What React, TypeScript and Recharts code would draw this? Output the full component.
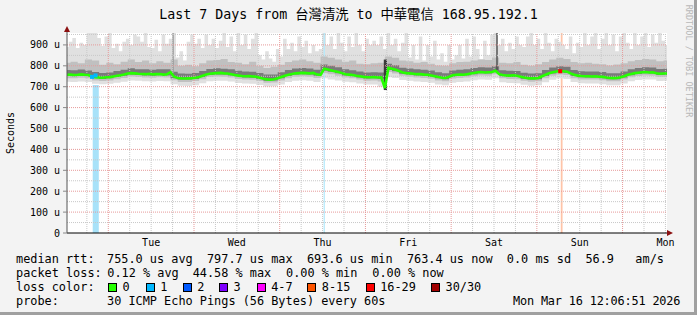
import React from 'react';
import {
  ComposedChart,
  Area,
  Line,
  Scatter,
  XAxis,
  YAxis,
  ReferenceLine,
  ReferenceArea,
  ReferenceDot,
} from 'recharts';

// ---------- data (hours since graph start, microseconds) ----------
// median rtt, hourly, h = 0..168
const MEDIAN = [
  757, 758, 756, 757, 759, 757, 756, 749, 746, 744, 743, 745,
  746, 749, 752, 755, 758, 763, 765, 764, 762, 761, 760, 762,
  759, 760, 761, 758, 760, 770, 748, 742, 740, 739, 740, 741,
  743, 746, 752, 758, 762, 764, 765, 766, 764, 763, 760, 756,
  753, 751, 750, 751, 749, 748, 743, 738, 735, 734, 736, 740,
  746, 752, 757, 761, 764, 765, 766, 765, 764, 766, 758, 757,
  786, 782, 778, 774, 770, 765, 760, 758, 756, 752, 750, 747,
  745, 745, 746, 744, 745, 694, 790, 786, 781, 775, 768, 765,
  764, 762, 760, 760, 758, 757, 754, 750, 746, 743, 742, 748,
  755, 757, 758, 757, 760, 763, 766, 769, 770, 768, 769, 770,
  776, 760, 756, 754, 753, 755, 752, 748, 744, 741, 740, 740,
  742, 750, 757, 764, 769, 773, 775, 774, 772, 764, 757, 753,
  751, 750, 750, 749, 750, 748, 747, 744, 742, 741, 742, 745,
  750, 757, 761, 765, 767, 769, 770, 768, 769, 764, 762, 763,
  763,
];

// slowest ping, hourly, h = 0..168
const PING_MAX = [
  890, 915, 933, 885, 910, 900, 957, 957, 957, 933, 895, 940,
  957, 885, 905, 870, 915, 930, 900, 950, 940, 915, 957, 890,
  885, 925, 870, 950, 905, 930, 957, 840, 870, 825, 915, 950,
  905, 930, 885, 950, 900, 930, 885, 920, 957, 890, 940, 870,
  957, 900, 950, 880, 930, 957, 850, 830, 870, 835, 820, 880,
  845, 930, 880, 910, 870, 940, 890, 920, 860, 900, 870, 880,
  957, 900, 940, 880, 957, 910, 870, 940, 890, 957, 900, 870,
  930, 900, 920, 900, 940, 880, 957, 900, 930, 870, 910, 957,
  840, 900, 830, 940, 825, 900, 845, 920, 830, 860, 820, 900,
  830, 850, 900, 835, 930, 845, 940, 880, 830, 920, 850, 950,
  957, 900, 930, 870, 910, 880, 940, 900, 890, 940, 957, 900,
  930, 880, 957, 910, 870, 930, 915, 900, 880, 940, 860, 910,
  890, 957, 900, 940, 957, 880, 930, 957, 900, 950, 870, 940,
  957, 910, 880, 957, 900, 940, 957, 890, 950, 910, 957, 920,
  900,
];

// smoke quantiles, every 2 hours, h = 0,2,..,168
const PING_MIN = [
  724, 722, 725, 722, 714, 712, 714, 719, 724, 730, 728, 726,
  725, 727, 726, 712, 704, 703, 707, 716, 726, 729, 728, 725,
  718, 715, 714, 708, 701, 702, 711, 722, 729, 731, 729, 723,
  740, 735, 730, 724, 721, 715, 710, 711, 700, 745, 742, 732,
  728, 725, 723, 719, 711, 707, 719, 722, 725, 731, 734, 733,
  740, 721, 718, 717, 709, 705, 707, 721, 733, 740, 737, 722,
  716, 715, 715, 712, 707, 707, 715, 726, 732, 735, 734, 727,
  728,
];
const PING_Q1 = [
  741, 740, 743, 740, 730, 727, 730, 736, 742, 749, 746, 744,
  743, 745, 744, 731, 723, 723, 727, 736, 746, 749, 748, 744,
  737, 734, 733, 727, 719, 720, 730, 741, 748, 750, 748, 742,
  765, 760, 753, 744, 740, 734, 729, 730, 725, 770, 763, 752,
  748, 744, 742, 738, 730, 726, 739, 742, 744, 750, 754, 753,
  760, 740, 737, 736, 728, 724, 726, 741, 753, 759, 756, 741,
  735, 734, 734, 731, 726, 726, 734, 745, 751, 754, 753, 746,
  747,
];
const PING_Q2 = [
  751, 750, 753, 750, 740, 737, 740, 746, 752, 759, 756, 754,
  753, 755, 754, 741, 734, 734, 737, 746, 756, 759, 758, 754,
  747, 744, 743, 737, 729, 730, 740, 751, 758, 760, 758, 752,
  776, 771, 764, 754, 750, 744, 739, 740, 738, 780, 774, 762,
  758, 754, 752, 748, 740, 736, 749, 752, 754, 760, 764, 763,
  770, 750, 747, 746, 738, 734, 736, 751, 763, 769, 766, 751,
  745, 744, 744, 741, 736, 736, 744, 755, 761, 764, 763, 756,
  757,
];
const PING_Q3 = [
  780, 779, 782, 778, 770, 766, 768, 775, 781, 788, 784, 783,
  781, 784, 783, 772, 763, 762, 766, 775, 785, 788, 786, 783,
  776, 773, 772, 766, 758, 759, 769, 780, 787, 789, 787, 781,
  806, 800, 793, 783, 779, 773, 768, 769, 768, 810, 803, 791,
  787, 783, 781, 777, 769, 765, 778, 781, 783, 789, 793, 792,
  798, 779, 776, 775, 767, 763, 765, 780, 792, 798, 795, 780,
  774, 773, 773, 770, 765, 765, 773, 784, 790, 793, 792, 785,
  786,
];
const PING_Q4 = [
  815, 820, 812, 830, 825, 805, 815, 808, 820, 830, 818, 825,
  812, 822, 815, 830, 800, 805, 798, 812, 825, 828, 832, 818,
  815, 808, 820, 800, 790, 795, 805, 818, 826, 830, 822, 815,
  845, 838, 830, 820, 825, 810, 808, 812, 815, 845, 838, 825,
  822, 815, 818, 810, 802, 800, 812, 818, 820, 826, 830, 828,
  840, 815, 812, 818, 805, 800, 808, 818, 830, 838, 832, 818,
  812, 815, 810, 808, 802, 806, 812, 822, 828, 832, 830, 822,
  825,
];

// loss periods (background bars)
const LOSS_BG = [
  { h1: 7.2, h2: 8.9, top: 708, color: '#a8e2f9', over: false },
  { h1: 71.85, h2: 72.2, top: 957, color: '#b4e9fb', over: true },
  { h1: 138.25, h2: 138.75, top: 957, color: '#ffc4a8', over: false },
];
// median samples with loss
const LOSS_MEDIAN = [
  { h: 7.0, v: 747, color: '#00b8ff' },
  { h: 8.0, v: 754, color: '#00b8ff' },
  { h: 138.1, v: 774, color: '#ff0000' },
];
// dark streaks in the smoke
const STREAKS = [
  { h1: 29.5, h2: 29.9, lo: 765, hi: 957, color: '#9a9a9a' },
  { h1: 88.7, h2: 89.6, lo: 684, hi: 830, color: '#3c3c3c' },
  { h1: 120.2, h2: 120.6, lo: 780, hi: 957, color: '#4c4c4c' },
];

const DAY_LABELS = ['Tue', 'Wed', 'Thu', 'Fri', 'Sat', 'Sun', 'Mon'];
const Y_TICKS = [0, 100, 200, 300, 400, 500, 600, 700, 800, 900];

const LOSS_LEGEND = [
  { label: '0', color: '#26ff00' },
  { label: '1', color: '#00b8ff' },
  { label: '2', color: '#0059ff' },
  { label: '3', color: '#7e00ff' },
  { label: '4-7', color: '#ff00ff' },
  { label: '8-15', color: '#ff5500' },
  { label: '16-29', color: '#ff0000' },
  { label: '30/30', color: '#a00000' },
];

// ---------- derived tables ----------
const HOURLY = MEDIAN.map((m, i) => ({ h: i, med: m, max: PING_MAX[i] }));
const TWO_HOURLY = PING_MIN.map((v, i) => ({
  h: i * 2,
  min: v,
  q1: PING_Q1[i],
  q2: PING_Q2[i],
  q3: PING_Q3[i],
  q4: PING_Q4[i],
}));

const Y_MAX = 957;
const FIRST_MIDNIGHT = 11.56;
const LABEL_TICKS = DAY_LABELS.map((_, i) => FIRST_MIDNIGHT + 12 + 24 * i);
const MAJOR_X: number[] = [];
const MINOR_X: number[] = [];
for (let t = FIRST_MIDNIGHT - 6; t < 168; t += 6) {
  const k = Math.round((t - FIRST_MIDNIGHT) / 6);
  if (k % 4 === 0) MAJOR_X.push(t);
  else MINOR_X.push(t);
}
const MAJOR_Y = [100, 200, 300, 400, 500, 600, 700, 800, 900];
const MINOR_Y = [50, 150, 250, 350, 450, 550, 650, 750, 850, 950];

const FONT = "'DejaVu Sans Mono', 'Noto Sans CJK TC', monospace";
const LEGEND_FONT = 11.86;

const SMOKE_LIGHT = '#e0e0e0';
const SMOKE_MID = '#c0c0c0';
const SMOKE_DARK = '#7a7a7a';

const LEGEND_SQ_X = [108, 145.7, 182.7, 219, 256.7, 307.3, 365.7, 431];

const RightArrow = (p: any) => (
  <path d={`M${p.cx - 3},${p.cy - 3} L${p.cx + 3},${p.cy} L${p.cx - 3},${p.cy + 3} Z`} fill="#8b1010" />
);
const UpArrow = (p: any) => (
  <path d={`M${p.cx - 3},${p.cy + 3} L${p.cx},${p.cy - 3} L${p.cx + 3},${p.cy + 3} Z`} fill="#8b1010" />
);
const LossSquare = (p: any) => (
  <rect x={p.cx - 2} y={p.cy - 2} width={4} height={4} fill={p.payload.color} />
);

const txt = (x: number, top: number, s: string, extra: React.CSSProperties = {}) => (
  <div
    key={`${x}-${top}-${s}`}
    style={{
      position: 'absolute',
      left: x,
      top,
      fontFamily: FONT,
      fontSize: LEGEND_FONT,
      lineHeight: '14px',
      whiteSpace: 'pre',
      color: '#000',
      ...extra,
    }}
  >
    {s}
  </div>
);

export default function App() {
  const rowTop = [252.3, 266.3, 280, 294];
  return (
    <div
      style={{
        position: 'relative',
        width: 697,
        height: 315,
        background: '#f3f3f3',
        overflow: 'hidden',
      }}
    >
      <style>{'body{margin:0}'}</style>
      <ComposedChart
        width={697}
        height={315}
        data={HOURLY}
        margin={{ top: 33, right: 30, left: 0, bottom: 52 }}
      >
        <XAxis
          type="number"
          dataKey="h"
          domain={[0, 168]}
          ticks={LABEL_TICKS}
          interval={0}
          allowDataOverflow
          tickFormatter={(v: number) => DAY_LABELS[Math.round((v - FIRST_MIDNIGHT - 12) / 24)]}
          axisLine={{ stroke: '#000', strokeWidth: 1.2 }}
          tickLine={false}
          tickSize={0}
          tickMargin={6}
          height={30}
          tick={{ fontSize: 10, fill: '#000', fontFamily: FONT }}
        />
        <YAxis
          type="number"
          domain={[0, Y_MAX]}
          ticks={Y_TICKS}
          interval={0}
          allowDataOverflow
          width={67}
          tickFormatter={(v: number) => (v === 0 ? '0' : `${v} u`)}
          axisLine={{ stroke: '#555' }}
          tickLine={{ stroke: '#888' }}
          tickSize={4}
          tickMargin={3}
          tick={{ fontSize: 10, fill: '#000', fontFamily: FONT }}
        />
        <ReferenceArea x1={0} x2={168} y1={0} y2={Y_MAX} fill="#ffffff" fillOpacity={1} stroke="none" zIndex={1} />
        {LOSS_BG.filter((l) => !l.over).map((l, i) => (
          <ReferenceArea key={`lb${i}`} x1={l.h1} x2={l.h2} y1={0} y2={l.top} fill={l.color} fillOpacity={1} stroke="none" zIndex={10} />
        ))}
        <Area
          data={TWO_HOURLY}
          dataKey={(d: any) => [d.min, d.q4]}
          type="step"
          fill={SMOKE_LIGHT}
          fillOpacity={1}
          stroke="none"
          isAnimationActive={false}
          zIndex={20}
        />
        <Area
          data={HOURLY}
          dataKey={(d: any) => [d.med, d.max]}
          type="step"
          fill={SMOKE_LIGHT}
          fillOpacity={1}
          stroke="none"
          isAnimationActive={false}
          zIndex={21}
        />
        {LOSS_BG.filter((l) => l.over).map((l, i) => (
          <ReferenceArea key={`lo${i}`} x1={l.h1} x2={l.h2} y1={0} y2={l.top} fill={l.color} fillOpacity={1} stroke="none" zIndex={30} />
        ))}
        <Area
          data={TWO_HOURLY}
          dataKey={(d: any) => [d.q1, d.q4]}
          type="step"
          fill={SMOKE_MID}
          fillOpacity={1}
          stroke="none"
          isAnimationActive={false}
          zIndex={40}
        />
        <Area
          data={TWO_HOURLY}
          dataKey={(d: any) => [d.q2, d.q3]}
          type="step"
          fill={SMOKE_DARK}
          fillOpacity={1}
          stroke="none"
          isAnimationActive={false}
          zIndex={50}
        />
        {STREAKS.map((s, i) => (
          <ReferenceArea key={`st${i}`} x1={s.h1} x2={s.h2} y1={s.lo} y2={s.hi} fill={s.color} fillOpacity={1} stroke="none" zIndex={60} />
        ))}
        {MINOR_Y.map((v) => (
          <ReferenceLine key={`my${v}`} y={v} stroke="#c8c8c8" strokeDasharray="1 1" zIndex={70} />
        ))}
        {MINOR_X.map((v) => (
          <ReferenceLine key={`mx${v}`} x={v} stroke="#c8c8c8" strokeDasharray="1 1" zIndex={70} />
        ))}
        {MAJOR_Y.map((v) => (
          <ReferenceLine key={`My${v}`} y={v} stroke="#e69a9a" strokeDasharray="1 1" zIndex={71} />
        ))}
        {MAJOR_X.map((v) => (
          <ReferenceLine key={`Mx${v}`} x={v} stroke="#e69a9a" strokeDasharray="1 1" zIndex={71} />
        ))}
        <Line
          data={HOURLY}
          dataKey="med"
          type="linear"
          stroke="#26ff00"
          strokeWidth={2.6}
          dot={false}
          activeDot={false}
          isAnimationActive={false}
          zIndex={80}
        />
        <Scatter data={LOSS_MEDIAN} dataKey="v" shape={LossSquare} isAnimationActive={false} zIndex={90} />
        <ReferenceLine
          segment={[{ x: 168, y: 0 }, { x: 168.9, y: 0 }]}
          stroke="#000"
          strokeWidth={1.2}
          ifOverflow="visible"
          zIndex={600}
        />
        <ReferenceLine
          segment={[{ x: 0, y: Y_MAX }, { x: 0, y: 976 }]}
          stroke="#555"
          ifOverflow="visible"
          zIndex={600}
        />
        <ReferenceDot x={168.84} y={0} ifOverflow="visible" shape={RightArrow} zIndex={610} />
        <ReferenceDot x={0} y={976} ifOverflow="visible" shape={UpArrow} zIndex={610} />
      </ComposedChart>

      {/* title */}
      <div
        style={{
          position: 'absolute',
          left: 0,
          top: 6.5,
          width: 697,
          textAlign: 'center',
          fontFamily: FONT,
          fontSize: 13.3,
          lineHeight: '16px',
          whiteSpace: 'pre',
          color: '#000',
        }}
      >
        Last 7 Days from 台灣清洗 to 中華電信 168.95.192.1
      </div>

      {/* y axis title */}
      <div
        style={{
          position: 'absolute',
          left: 11,
          top: 133,
          transform: 'translate(-50%,-50%) rotate(-90deg)',
          fontFamily: FONT,
          fontSize: 10,
          lineHeight: '12px',
          whiteSpace: 'pre',
          color: '#000',
        }}
      >
        Seconds
      </div>

      {/* watermark */}
      <div
        style={{
          position: 'absolute',
          left: 688.5,
          top: 61,
          transform: 'translate(-50%,-50%) rotate(90deg)',
          fontFamily: FONT,
          fontSize: 8.5,
          lineHeight: '10px',
          whiteSpace: 'pre',
          color: '#b8b8b8',
        }}
      >
        RRDTOOL / TOBI OETIKER
      </div>

      {/* legend rows */}
      {txt(16, rowTop[0], 'median rtt:')}
      {txt(107, rowTop[0], '755.0 us avg  797.7 us max  693.6 us min  763.4 us now  0.0 ms sd  56.9   am/s')}
      {txt(16, rowTop[1], 'packet loss:')}
      {txt(107.3, rowTop[1], '0.12 % avg')}
      {txt(192.7, rowTop[1], '44.58 % max')}
      {txt(286, rowTop[1], '0.00 % min')}
      {txt(372.3, rowTop[1], '0.00 % now')}
      {txt(16, rowTop[2], 'loss color:')}
      {LOSS_LEGEND.map((l, i) => (
        <React.Fragment key={l.label}>
          <div
            style={{
              position: 'absolute',
              left: LEGEND_SQ_X[i],
              top: 282.5,
              width: 7,
              height: 7,
              background: l.color,
              border: '1px solid #000',
            }}
          />
          {txt(LEGEND_SQ_X[i] + 14.5, rowTop[2], l.label)}
        </React.Fragment>
      ))}
      {txt(16, rowTop[3], 'probe:')}
      {txt(107, rowTop[3], '30 ICMP Echo Pings (56 Bytes) every 60s')}
      {txt(513, rowTop[3], 'Mon Mar 16 12:06:51 2026', { letterSpacing: '-0.17px' })}

      {/* frame shading */}
      <div style={{ position: 'absolute', left: 694, top: 0, width: 3, height: 315, background: '#a0a0a0' }} />
      <div style={{ position: 'absolute', left: 0, top: 312, width: 697, height: 3, background: '#a0a0a0' }} />
    </div>
  );
}
